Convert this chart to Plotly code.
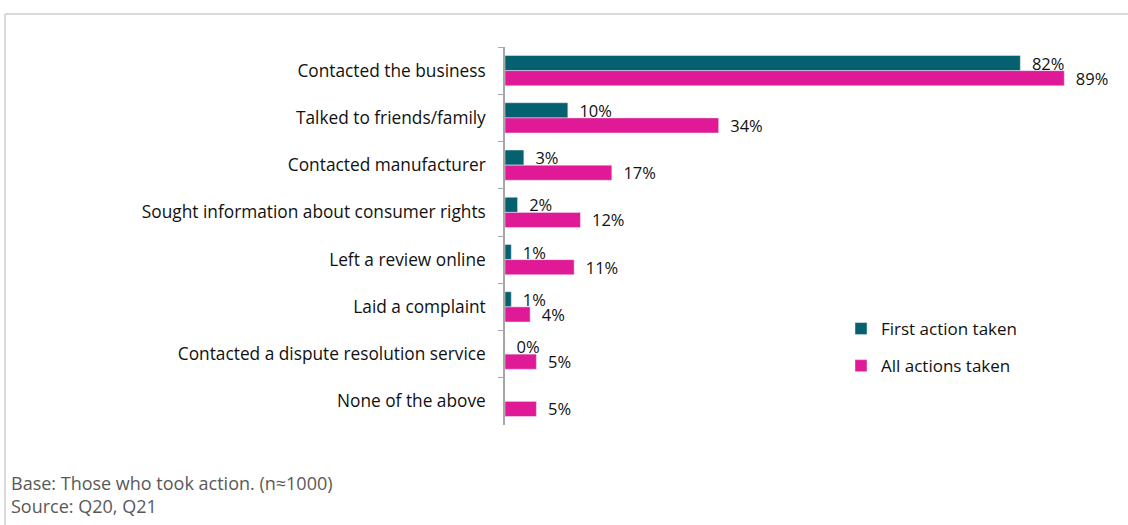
import plotly.graph_objects as go

# Survey responses (percent of respondents)
categories = [
    "Contacted the business",
    "Talked to friends/family",
    "Contacted manufacturer",
    "Sought information about consumer rights",
    "Left a review online",
    "Laid a complaint",
    "Contacted a dispute resolution service",
    "None of the above",
]
first_action = [82, 10, 3, 2, 1, 1, 0, None]
all_actions = [89, 34, 17, 12, 11, 4, 5, 5]
series_names = ["First action taken", "All actions taken"]

TEAL = "#05616F"
PINK = "#E01A96"
FONT = "'Open Sans', Lato, sans-serif"
INK = "#111111"

W, H = 1128, 525
ML, MR, MT, MB = 505, 26, 47, 100
PW, PH = W - ML - MR, H - MT - MB


def px_x(x):
    return (x - ML) / PW


def px_y(y):
    return (H - MB - y) / PH


def pct_labels(vals):
    # small lead-in so the value sits a little clear of the bar end
    return ["" if v is None else "\u00a0\u00a0" + f"{v}%" for v in vals]


fig = go.Figure()
for name, vals, color, grp in [
    (series_names[0], first_action, TEAL, "a"),
    (series_names[1], all_actions, PINK, "b"),
]:
    fig.add_trace(go.Bar(
        y=categories, x=vals, orientation="h", name=name,
        marker=dict(color=color), legendgroup=grp,
        text=pct_labels(vals), textposition="outside", constraintext="none",
        textfont=dict(size=16.5, color=INK, family=FONT), cliponaxis=False,
    ))

fig.update_layout(
    width=W, height=H,
    margin=dict(l=ML, r=MR, t=MT, b=MB, autoexpand=False),
    paper_bgcolor="white", plot_bgcolor="white",
    barmode="group", bargap=0.36, bargroupgap=0,
    font=dict(family=FONT, size=16, color=INK),
    showlegend=True,
    legend=dict(
        x=px_x(841), y=px_y(311), xanchor="left", yanchor="top",
        traceorder="grouped", tracegroupgap=12,
        font=dict(size=17, color=INK, family=FONT),
        itemwidth=30, bgcolor="rgba(0,0,0,0)",
    ),
    xaxis=dict(range=[0, 95], visible=False, fixedrange=True),
    yaxis=dict(
        autorange="reversed", showline=True, linecolor="#a6a6a6", linewidth=1.5,
        ticks="outside", tickson="boundaries", ticklen=5, tickcolor="#a6a6a6",
        showgrid=False, zeroline=False, ticklabelstandoff=14,
        tickfont=dict(size=17.3, color=INK, family=FONT),
    ),
    annotations=[
        dict(text="Base: Those who took action. (n≈1000)", x=px_x(9), y=px_y(483),
             xref="paper", yref="paper", xanchor="left", yanchor="middle",
             showarrow=False, font=dict(size=18, color="#595959", family=FONT)),
        dict(text="Source: Q20, Q21", x=px_x(9), y=px_y(506),
             xref="paper", yref="paper", xanchor="left", yanchor="middle",
             showarrow=False, font=dict(size=18, color="#595959", family=FONT)),
    ],
    shapes=[
        dict(type="line", xref="paper", yref="paper",
             x0=px_x(5), y0=px_y(14), x1=px_x(W + 5), y1=px_y(14),
             line=dict(color="#d9d9d9", width=2)),
        dict(type="line", xref="paper", yref="paper",
             x0=px_x(5), y0=px_y(14), x1=px_x(5), y1=px_y(H + 5),
             line=dict(color="#d9d9d9", width=2)),
    ],
)

fig.write_html("out.html")
